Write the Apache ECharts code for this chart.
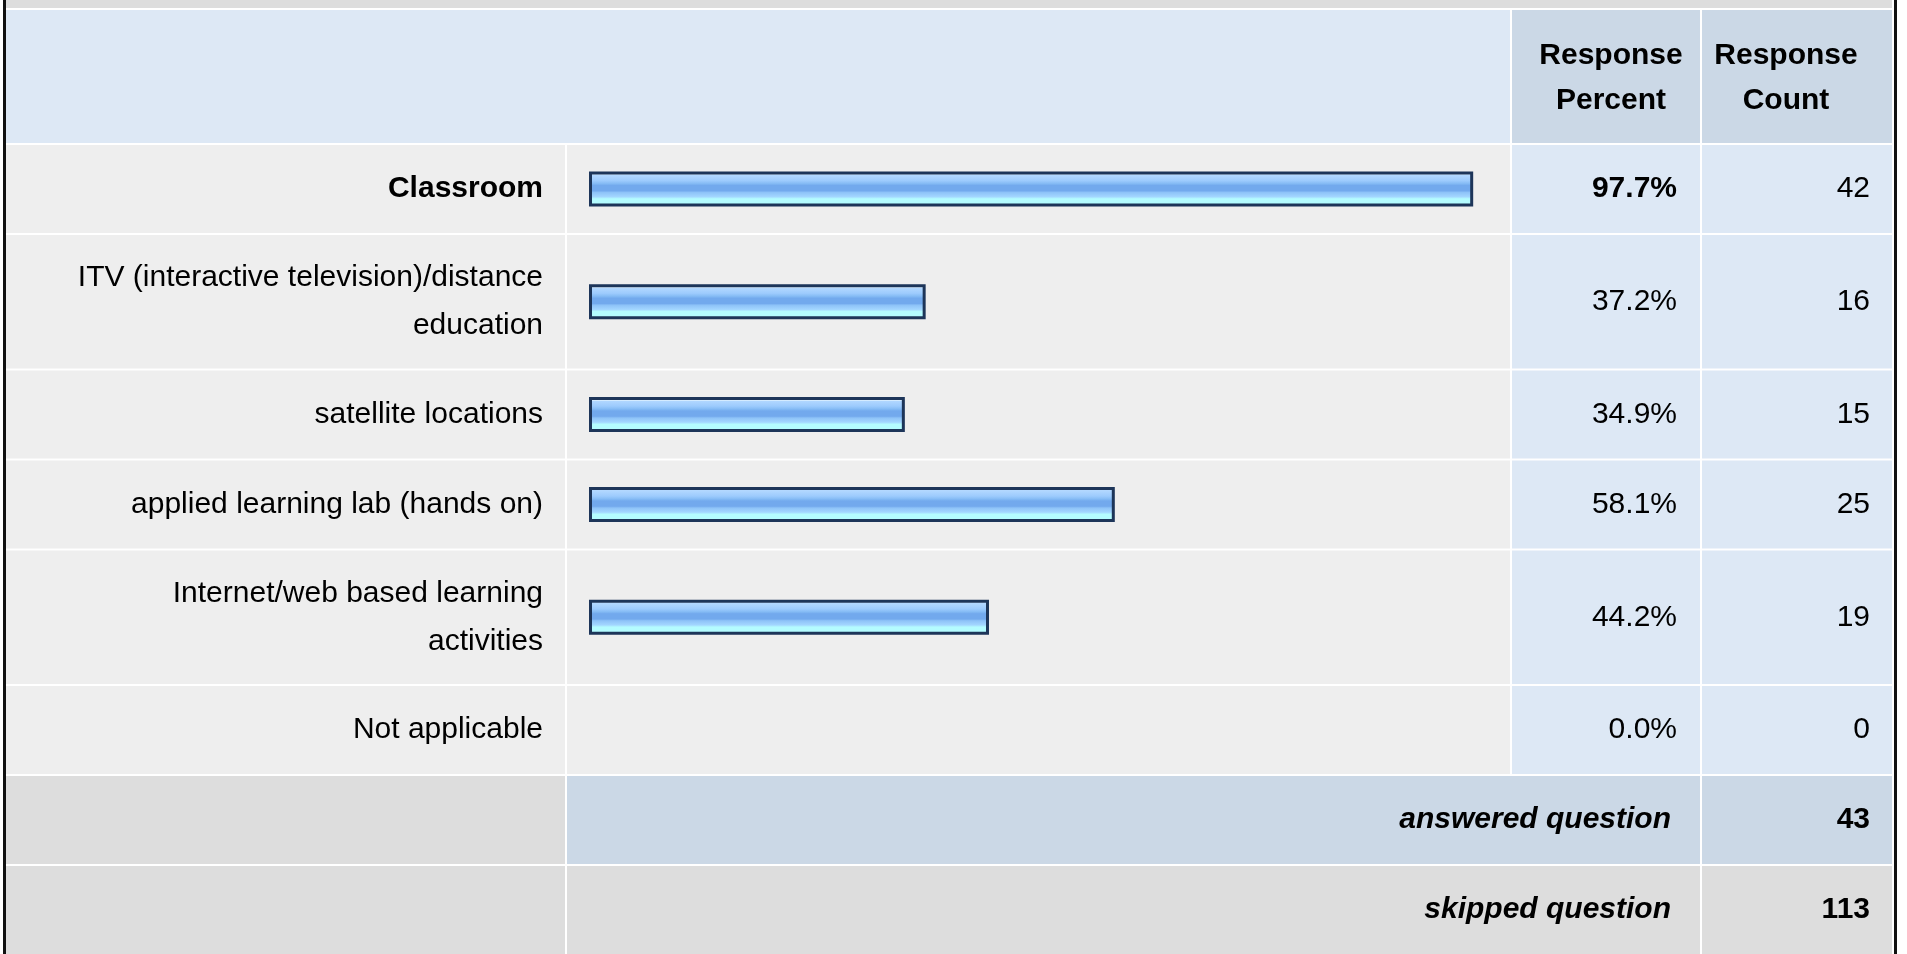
<!DOCTYPE html>
<html lang="en">
<head>
  <meta charset="UTF-8">
  <title>Survey Responses</title>
  <script src="https://cdn.jsdelivr.net/npm/echarts@6.0.0/dist/echarts.min.js"></script>
  <style>
    html, body {
      margin: 0;
      padding: 0;
      background: #ffffff;
    }

    #main {
      width: 1907px;
      height: 954px;
    }
  </style>
</head>
<body>
  <div id="main"></div>

  <script type="text/javascript">
    // answer choices, as printed (line breaks as in the table)
    var categories = [
      'Classroom',
      'ITV (interactive television)/distance\neducation',
      'satellite locations',
      'applied learning lab (hands on)',
      'Internet/web based learning\nactivities',
      'Not applicable'
    ]
    var percents = [97.7, 37.2, 34.9, 58.1, 44.2, 0.0]
    var counts = [42, 16, 15, 25, 19, 0]
    var headers = ['Response\nPercent', 'Response\nCount']
    var summaryLabels = ['answered question', 'skipped question']
    var summaryValues = [43, 113]

    var FONT = '"Liberation Sans", Arial, Helvetica, sans-serif'
    var FS = 30

    // column edges
    var C1L = 6, C1R = 565, C2L = 567, C2R = 1510, C3L = 1512, C3R = 1700, C4L = 1702, C4R = 1892
    var BAR_L = 589, BAR_W = 905

    var myChart = echarts.init(document.getElementById('main'), null, { renderer: 'canvas' })

    // row layout: taller rows for two-line labels
    var rows = []
    var y = 145
    categories.forEach(function(name) {
      var h = name.indexOf('\n') >= 0 ? 133.5 : 88
      rows.push({ top: y, height: h })
      y += h + 2
    })
    var sumRows = [{ top: y, height: 88 }, { top: y + 90, height: 954 - (y + 90) }]

    var barColor = new echarts.graphic.LinearGradient(0, 0, 0, 1, [
      { offset: 0, color: '#d4ebff' },
      { offset: 0.1, color: '#d4ebff' },
      { offset: 0.1, color: '#b3d8ff' },
      { offset: 0.26, color: '#9dcbfd' },
      { offset: 0.34, color: '#86bcf5' },
      { offset: 0.4, color: '#72a9ed' },
      { offset: 0.55, color: '#72a9ed' },
      { offset: 0.6, color: '#8ec3f8' },
      { offset: 0.72, color: '#a3d6ff' },
      { offset: 0.78, color: '#b4fcff' },
      { offset: 1, color: '#b4fcff' }
    ])

    var grids = [], xAxes = [], yAxes = [], series = []
    rows.forEach(function(r, i) {
      var bold = i === 0 ? 'bold' : 'normal'
      grids.push({ left: BAR_L, width: BAR_W, top: r.top, height: r.height })
      xAxes.push({ type: 'value', gridIndex: i, min: 0, max: 100, show: false })
      var axisBase = {
        type: 'category',
        gridIndex: i,
        z: 5,
        axisLine: { show: false },
        axisTick: { show: false },
        splitLine: { show: false }
      }
      yAxes.push(Object.assign({}, axisBase, {
        data: [categories[i]],
        position: 'left',
        axisLabel: {
          margin: BAR_L - 543,
          color: '#000',
          fontFamily: FONT,
          fontSize: FS,
          fontWeight: bold,
          lineHeight: 48,
          align: 'right'
        }
      }))
      yAxes.push(Object.assign({}, axisBase, {
        data: [percents[i].toFixed(1) + '%'],
        position: 'right',
        axisLabel: {
          margin: 1677 - (BAR_L + BAR_W),
          align: 'right',
          color: '#000',
          fontFamily: FONT,
          fontSize: FS,
          fontWeight: bold
        }
      }))
      yAxes.push(Object.assign({}, axisBase, {
        data: [String(counts[i])],
        position: 'right',
        axisLabel: {
          margin: 1870 - (BAR_L + BAR_W),
          align: 'right',
          color: '#000',
          fontFamily: FONT,
          fontSize: FS
        }
      }))
      series.push({
        type: 'bar',
        xAxisIndex: i,
        yAxisIndex: i * 3,
        z: 5,
        barWidth: 35,
        silent: true,
        data: [{
          value: percents[i],
          itemStyle: {
            color: barColor,
            borderColor: '#1d3559',
            borderWidth: percents[i] > 0 ? 3 : 0
          }
        }]
      })
    })

    // table cells behind the chart
    function rect(x1, y1, x2, y2, fill) {
      return { type: 'rect', z: 0, silent: true, shape: { x: x1, y: y1, width: x2 - x1, height: y2 - y1 }, style: { fill: fill } }
    }
    function text(str, x, yc, align, weight, style, lh) {
      return {
        type: 'text', z: 10, silent: true, x: x, y: yc,
        style: {
          text: str, fill: '#000', font: (style || 'normal') + ' ' + (weight || 'normal') + ' ' + FS + 'px ' + FONT,
          align: align, verticalAlign: 'middle', lineHeight: lh || FS
        }
      }
    }

    var graphics = [
      rect(3, 0, 1897, 954, '#ffffff'),
      rect(6, 0, 1892, 8, '#dddddd'),
      rect(C1L, 10, C2R, 143, '#dde8f5'),
      rect(C3L, 10, C3R, 143, '#cbd8e6'),
      rect(C4L, 10, C4R, 143, '#cbd8e6'),
      rect(3, 0, 6, 954, '#111111'),
      rect(1894, 0, 1897, 954, '#111111')
    ]
    rows.forEach(function(r) {
      graphics.push(rect(C1L, r.top, C1R, r.top + r.height, '#eeeeee'))
      graphics.push(rect(C2L, r.top, C2R, r.top + r.height, '#eeeeee'))
      graphics.push(rect(C3L, r.top, C3R, r.top + r.height, '#dde8f5'))
      graphics.push(rect(C4L, r.top, C4R, r.top + r.height, '#dde8f5'))
    })
    var a = sumRows[0], s = sumRows[1]
    graphics.push(rect(C1L, a.top, C1R, a.top + a.height, '#dddddd'))
    graphics.push(rect(C2L, a.top, C3R, a.top + a.height, '#cbd8e6'))
    graphics.push(rect(C4L, a.top, C4R, a.top + a.height, '#cbd8e6'))
    graphics.push(rect(C1L, s.top, C1R, s.top + s.height, '#dddddd'))
    graphics.push(rect(C2L, s.top, C3R, s.top + s.height, '#dddddd'))
    graphics.push(rect(C4L, s.top, C4R, s.top + s.height, '#dddddd'))

    graphics.push(text(headers[0], 1611, 78, 'center', 'bold', 'normal', 45))
    graphics.push(text(headers[1], 1786, 78, 'center', 'bold', 'normal', 45))
    graphics.push(text(summaryLabels[0], 1671, a.top + a.height / 2, 'right', 'bold', 'italic'))
    graphics.push(text(String(summaryValues[0]), 1870, a.top + a.height / 2, 'right', 'bold'))
    graphics.push(text(summaryLabels[1], 1671, s.top + s.height / 2, 'right', 'bold', 'italic'))
    graphics.push(text(String(summaryValues[1]), 1870, s.top + s.height / 2, 'right', 'bold'))

    var option = {
      backgroundColor: '#ffffff',
      animation: false,
      graphic: graphics,
      grid: grids,
      xAxis: xAxes,
      yAxis: yAxes,
      series: series
    }

    myChart.setOption(option)
  </script>
</body>
</html>
